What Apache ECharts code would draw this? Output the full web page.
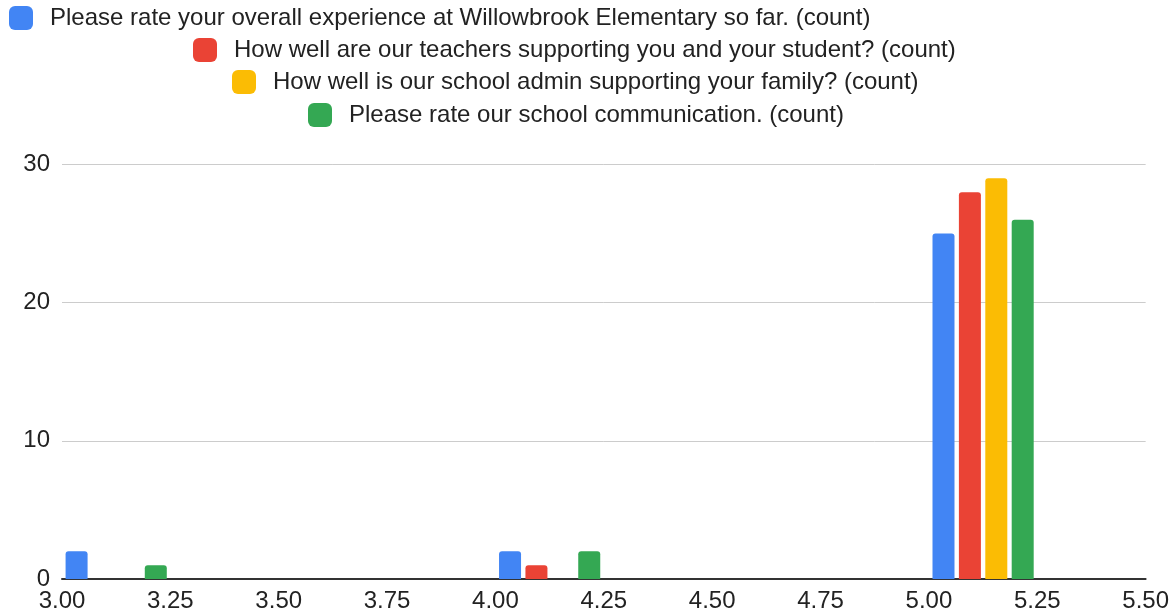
<!DOCTYPE html>
<html>
<head>
<meta charset="utf-8">
<script src="https://cdn.jsdelivr.net/npm/echarts@6/dist/echarts.min.js"></script>
<style>html,body{margin:0;padding:0;background:#fff}#c{width:1172px;height:613px}</style>
</head>
<body>
<div id="c"></div>
<script>
const ratings = [3, 4, 5];
const binWidth = 0.25;
const seriesNames = [
  "Please rate your overall experience at Willowbrook Elementary so far. (count)",
  "How well are our teachers supporting you and your student? (count)",
  "How well is our school admin supporting your family? (count)",
  "Please rate our school communication. (count)"
];
const overallCounts = [2, 2, 25];
const teachersCounts = [0, 1, 28];
const adminCounts = [0, 0, 29];
const communicationCounts = [1, 2, 26];
const colors = ["#4285F4", "#EA4335", "#FBBC04", "#34A853"];
const xTicks = [3.00, 3.25, 3.50, 3.75, 4.00, 4.25, 4.50, 4.75, 5.00, 5.25, 5.50];
const yTicks = [0, 10, 20, 30];

const allCounts = [overallCounts, teachersCounts, adminCounts, communicationCounts];
const font = "'Liberation Sans', Arial, sans-serif";
const legendLefts = [9, 193, 232, 308];
const legendTops = [6, 38, 70, 103];

const chart = echarts.init(document.getElementById('c'));
chart.setOption({
  animation: false,
  textStyle: { fontFamily: font },
  legend: seriesNames.map((n, i) => ({
    data: [n],
    left: legendLefts[i],
    top: legendTops[i],
    padding: 0,
    itemWidth: 24,
    itemHeight: 24,
    icon: 'roundRect',
    selectedMode: false,
    textStyle: { fontSize: 24, color: '#222', fontFamily: font, padding: [0, 0, 0, 12] }
  })),
  grid: { left: 62, right: 26, top: 164.5, bottom: 34 },
  xAxis: {
    type: 'value',
    min: xTicks[0],
    max: xTicks[xTicks.length - 1],
    interval: 0.25,
    axisLine: { show: true, onZero: false, lineStyle: { color: '#333', width: 2 } },
    axisTick: { show: false },
    splitLine: { show: false },
    axisLabel: { fontSize: 24, color: '#222', margin: 10, formatter: v => v.toFixed(2) }
  },
  yAxis: {
    type: 'value',
    min: yTicks[0],
    max: yTicks[yTicks.length - 1],
    interval: 10,
    axisLine: { show: false },
    axisTick: { show: false },
    splitLine: { lineStyle: { color: '#cccccc', width: 1 } },
    axisLabel: { fontSize: 24, color: '#222', margin: 12 }
  },
  series: seriesNames.map((n, i) => ({
    name: n,
    type: 'bar',
    barWidth: 22,
    barGap: '20%',
    itemStyle: { color: colors[i], borderRadius: [3, 3, 0, 0] },
    data: ratings.map((r, j) => [r + binWidth / 2, allCounts[i][j]])
  }))
});
</script>
</body>
</html>
